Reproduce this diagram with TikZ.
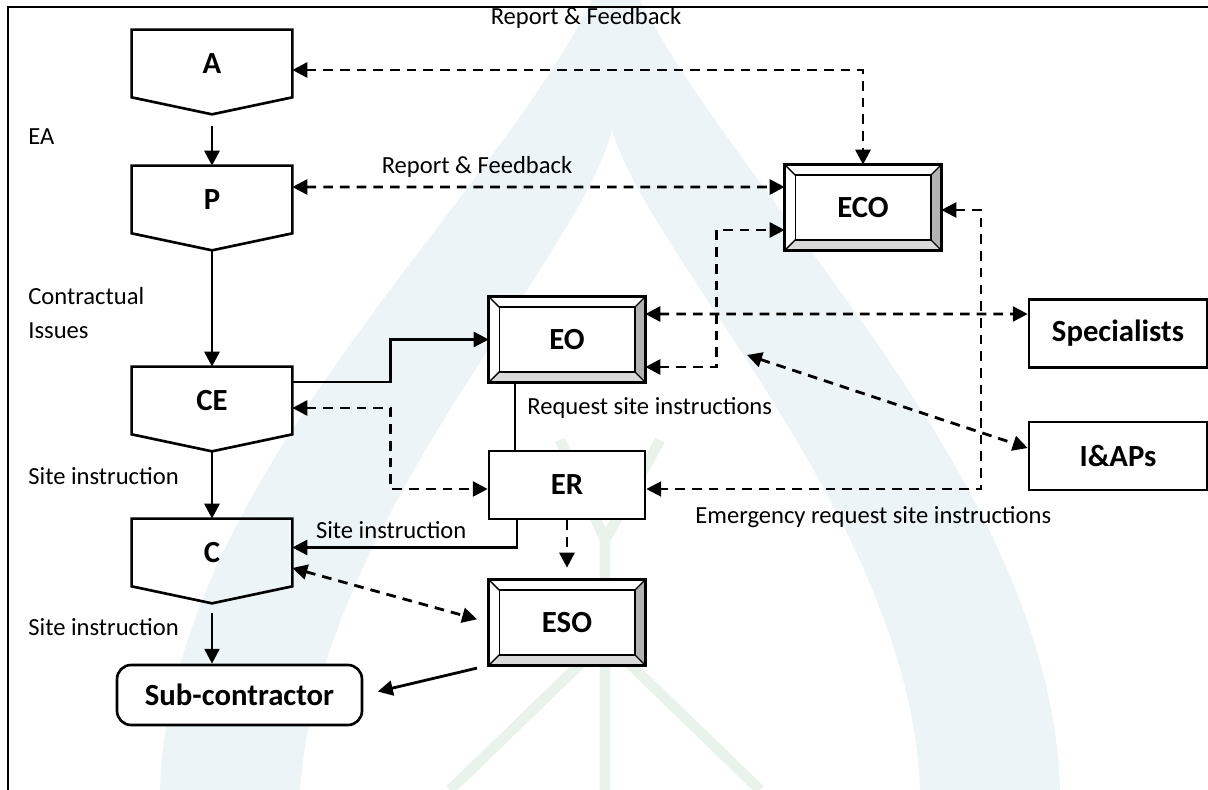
\documentclass[tikz,border=0pt]{standalone}
\usepackage{fontspec}
\setmainfont{Carlito}
\usetikzlibrary{arrows.meta}
\definecolor{wmblue}{RGB}{236,244,248}
\definecolor{wmgreen}{RGB}{234,243,235}
\tikzstyle{pg} = [rectangle, minimum width=3.2cm, minimum height=1.34cm,
    inner sep=0pt, font=\fontsize{17.5}{20}\selectfont\bfseries]
\tikzstyle{bv} = [rectangle, fill=white, minimum width=3.12cm, minimum height=1.7cm,
    inner sep=0pt, font=\fontsize{17.5}{20}\selectfont\bfseries]
\tikzstyle{bx} = [rectangle, draw, fill=white, line width=1.5pt, minimum width=3.12cm,
    minimum height=1.36cm, inner sep=0pt, font=\fontsize{17.5}{20}\selectfont\bfseries]
\tikzstyle{lb} = [inner sep=0pt, font=\fontsize{14}{16.5}\selectfont]
\tikzstyle{ln} = [line width=1.6pt]
\tikzstyle{dl} = [ln, dash pattern=on 5.5pt off 4pt]

\begin{document}
\begin{tikzpicture}[>={Triangle[length=8.5pt,width=8.5pt]}, x=0.02cm, y=-0.02cm]
  \useasboundingbox (0,0) rectangle (1208,790);

  % watermark
  \begin{scope}
    \clip (0,0) rectangle (1208,790);
    \fill[wmblue] (615,-60) .. controls (560,150) and (170,450) .. (160,790) -- (1060,790)
        .. controls (1050,450) and (680,150) .. (615,-60) -- cycle;
    \fill[white] (612,130) .. controls (580,260) and (320,520) .. (300,790) -- (920,790)
        .. controls (910,520) and (650,260) .. (612,130) -- cycle;
    \draw[wmgreen, line width=6pt] (605,540) -- (605,790)
        (560,440) -- (605,540) -- (660,440)
        (605,640) -- (760,790) (605,640) -- (450,790);
  \end{scope}
  \draw[line width=1.6pt] (8,790) -- (8,7) -- (1208,7);

  \node[pg] (A) at (212,63.5) {A};
  \node[pg] (P) at (212,199.5) {P};
  \node[pg] (CE) at (212,400.5) {CE};
  \node[pg] (C) at (212,552.5) {C};
  \foreach \n in {A,P,CE,C}
    \draw[line width=1.5pt] (\n.north west) -- (\n.north east) -- (\n.south east)
      -- ([yshift=-0.34cm]\n.south) -- (\n.south west) -- cycle;

  \node[bv] (ECO) at (863,207.5) {ECO};
  \node[bv] (EO) at (567,339.5) {EO};
  \node[bv] (ESO) at (567,622.5) {ESO};
  \foreach \n in {ECO,EO,ESO} {
    \fill[gray!60] (\n.north east) -- (\n.south east) -- ++(-6pt,6pt)
      -- ([xshift=-6pt,yshift=-6pt]\n.north east) -- cycle;
    \fill[gray!30] (\n.south west) -- (\n.south east) -- ++(-6pt,6pt)
      -- ([xshift=6pt,yshift=6pt]\n.south west) -- cycle;
    \draw[line width=1.5pt] (\n.north west) rectangle (\n.south east);
    \draw[thick] ([xshift=6pt,yshift=-6pt]\n.north west) rectangle ([xshift=-6pt,yshift=6pt]\n.south east);
    \draw[thick] (\n.north west) -- ++(6pt,-6pt) (\n.north east) -- ++(-6pt,-6pt)
      (\n.south west) -- ++(6pt,6pt) (\n.south east) -- ++(-6pt,6pt);
  }

  \node[bx] (ER) at (567,485) {ER};
  \node[bx, minimum width=3.56cm] (Spec) at (1118,333.5) {Specialists};
  \node[bx, minimum width=3.56cm] (IAP) at (1118,456) {I\&APs};
  \node[bx, rounded corners=8pt, minimum width=4.9cm, minimum height=1.2cm] (Sub) at (239.5,695) {Sub-contractor};

  % labels
  \node[lb] (rf1) at (586,18) {Report \& Feedback};
  \node[lb] (rf2) at (477,167) {Report \& Feedback};
  \node[lb, anchor=west] (ea) at (28,137) {EA};
  \node[lb, anchor=west, align=left] (ci) at (28,313) {Contractual\\[3pt]Issues};
  \node[lb, anchor=west] (si1) at (28,476) {Site instruction};
  \node[lb, anchor=west] (si2) at (28,627) {Site instruction};
  \node[lb, anchor=west] (rsi) at (527,408) {Request site instructions};
  \node[lb, anchor=west] (ersi) at (695,517) {Emergency request site instructions};

  % main chain
  \draw[ln,->] ([yshift=-0.58cm]A.south) -- (P.north);
  \draw[ln,->] ([yshift=-0.34cm]P.south) -- (CE.north);
  \draw[ln,->] ([yshift=-0.34cm]CE.south) -- (C.north);
  \draw[ln,->] ([yshift=-0.54cm]C.south) -- (C.south |- Sub.north);

  % reporting lines
  \draw[dl,<->] ([yshift=-0.13cm]A.east) -| (ECO.north);
  \draw[dl,<->] ([yshift=0.25cm]P.east) -- ([yshift=0.41cm]ECO.west);
  \draw[dl,<->] ([yshift=-0.55cm]EO.east) -- ++(71,0) |- ([yshift=-0.45cm]ECO.west);
  \draw[dl,<->] ([yshift=0.51cm]EO.east) -- ([yshift=0.39cm]Spec.west);
  \coordinate (eoc) at (747,355);
  \draw[dl,<->] (eoc) -- ([yshift=0.16cm]IAP.west);
  \draw[dl,<->, line width=1.3pt] ([yshift=-0.05cm]ECO.east) -- ++(40,0) |- ([yshift=-0.08cm]ER.east);

  % site instructions
  \draw[ln,->] ([yshift=0.37cm]CE.east) -- ++(98,0) |- (EO.west);
  \draw[dl,<->] ([yshift=-0.15cm]CE.east) -- ++(98,0) |- ([yshift=-0.08cm]ER.west);
  \draw[thick] ([xshift=-1.04cm]EO.south) -- ([xshift=-1.04cm]ER.north);
  \draw[ln,->] ([xshift=-1cm]ER.south) |- node[lb, pos=0.78, above=4pt] (si3) {Site instruction} ([yshift=0.1cm]C.east);
  \draw[dl,->, shorten >=0.24cm] (ER.south) -- (ESO.north);
  \draw[dl,<->, shorten >=0.24cm] ([yshift=-0.31cm]C.east) -- (ESO.west);
  \draw[ln,->, shorten <=0.24cm, shorten >=0.3cm] (ESO.south west) -- (Sub.east);
\end{tikzpicture}
\end{document}
